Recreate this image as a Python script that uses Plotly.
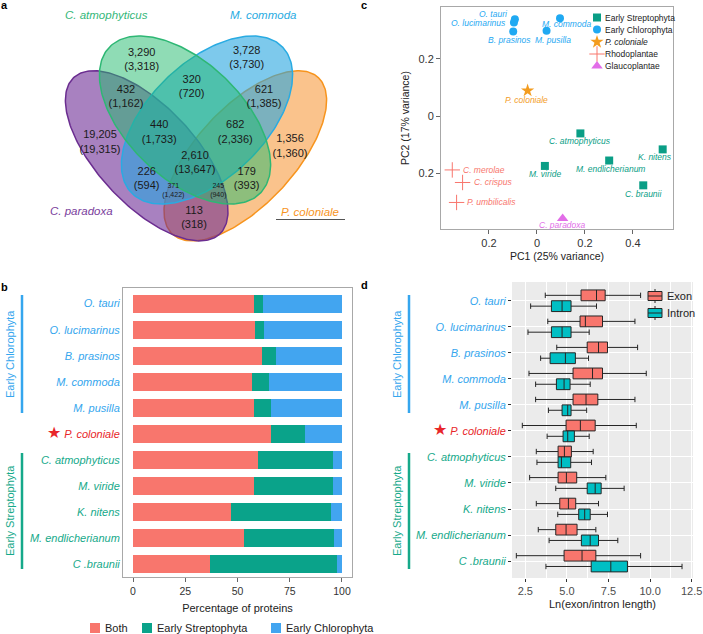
import numpy as np
import plotly.graph_objects as go

W, H = 703, 634
FONT = "Liberation Sans, Arial, Helvetica, sans-serif"

# ---------------- data ----------------
# panel a: Venn diagram counts (shared / total)
venn_counts = ["3,290", "3,728", "320", "432", "621", "19,205", "440", "682",
               "1,356", "2,610", "226", "179", "371", "245", "113"]
venn_totals = ["3,318", "3,730", "720", "1,162", "1,385", "19,315", "1,733", "2,336",
               "1,360", "13,647", "594", "393", "1,422", "940", "318"]

# panel b: percentage of proteins
species = ["O. tauri", "O. lucimarinus", "B. prasinos", "M. commoda", "M. pusilla",
           "P. coloniale", "C. atmophyticus", "M. viride", "K. nitens",
           "M. endlicherianum", "C .braunii"]
species_group = ["chl"] * 5 + ["col"] + ["str"] * 5
pct_both = [57.9, 58.3, 61.8, 57.1, 57.9, 66.0, 59.6, 57.9, 46.9, 53.3, 36.9]
pct_strep = [4.3, 4.3, 6.5, 8.1, 7.9, 16.2, 35.9, 37.8, 47.7, 42.9, 60.7]
pct_chloro = [37.8, 37.4, 31.7, 34.8, 34.2, 17.8, 4.5, 4.3, 5.4, 3.8, 2.4]

# panel c: PCA
pca_names = ["O. tauri", "O. lucimarinus", "B. prasinos", "M. commoda", "M. pusilla",
             "P. coloniale", "C. atmophyticus", "M. viride", "K. nitens",
             "M. endlicherianum", "C. braunii", "C. merolae", "C. crispus",
             "P. umbilicalis", "C. paradoxa"]
pca_group = (["Early Chlorophyta"] * 5 + ["P. coloniale"] + ["Early Streptophyta"] * 5
             + ["Rhodoplantae"] * 3 + ["Glaucoplantae"])
pc1 = [-0.092, -0.096, -0.099, 0.096, 0.040, -0.039, 0.181, 0.033, 0.524, 0.301,
       0.443, -0.353, -0.310, -0.335, 0.107]
pc2 = [0.339, 0.328, 0.296, 0.343, 0.299, 0.089, -0.061, -0.175, -0.117, -0.156,
       -0.243, -0.189, -0.233, -0.303, -0.359]

# panel d: Ln(exon/intron length) box stats
exon_lo = [3.70, 3.85, 4.39, 2.72, 3.12, 2.32, 3.16, 2.76, 3.16, 3.28, 1.96]
exon_q1 = [5.85, 5.79, 6.22, 5.37, 5.37, 4.95, 4.47, 4.47, 4.57, 4.33, 4.83]
exon_med = [6.78, 6.11, 6.90, 6.54, 6.15, 5.81, 4.85, 4.97, 5.09, 4.95, 5.91]
exon_q3 = [7.30, 7.14, 7.44, 7.14, 6.86, 6.70, 5.27, 5.59, 5.53, 5.61, 6.74]
exon_hi = [9.43, 9.09, 9.25, 9.77, 9.09, 9.17, 6.58, 7.34, 6.90, 6.74, 9.43]
intron_lo = [2.82, 2.66, 3.42, 3.12, 3.89, 3.81, 3.20, 4.33, 4.45, 3.93, 3.74]
intron_q1 = [4.07, 4.07, 3.99, 4.37, 4.71, 4.77, 4.47, 6.22, 5.71, 5.87, 6.46]
intron_med = [4.71, 4.71, 4.91, 4.83, 5.05, 5.05, 4.67, 6.70, 6.07, 6.40, 7.64]
intron_q3 = [5.25, 5.25, 5.51, 5.19, 5.25, 5.45, 5.23, 7.06, 6.40, 6.90, 8.64]
intron_hi = [6.78, 6.34, 6.30, 6.40, 6.19, 6.34, 6.48, 8.44, 7.44, 8.06, 11.92]

# ---------------- styles ----------------
C_CHL = "#35a6ee"
C_STR = "#16a98a"
C_COL = "#e8262a"
group_color = {"chl": C_CHL, "str": C_STR, "col": C_COL}


def px(x):
    return x / W


def py(y):
    return 1 - y / H


def tick_label(name, grp):
    c = group_color[grp]
    lab = f'<span style="color:{c}"><i>{name}</i></span>'
    if grp == "col":
        lab = f'<span style="color:{c};font-size:16px">★</span> ' + lab
    return lab


fig = go.Figure()

# ---------------- panel a ----------------
venn_geom = {  # cx, cy, a, b, angle (pixel space)
    "P. coloniale": (245.3, 155.8, 107, 49, -47, "rgba(245,135,25,0.5)", "#f7941d"),
    "C. paradoxa": (146.7, 155.8, 107, 49, 47, "rgba(105,38,147,0.58)", "#6b2d90"),
    "M. commoda": (207, 120, 105, 58, -44, "rgba(38,165,223,0.6)", "#29abe2"),
    "C. atmophyticus": (185, 120, 105, 58, 44, "rgba(31,185,107,0.5)", "#2eb774"),
}
t = np.linspace(0, 2 * np.pi, 240)
for name, (cx, cy, a, b, ang, fc, lc) in venn_geom.items():
    th = np.radians(ang)
    ex = cx + a * np.cos(t) * np.cos(th) - b * np.sin(t) * np.sin(th)
    ey = cy + a * np.cos(t) * np.sin(th) + b * np.sin(t) * np.cos(th)
    fig.add_trace(go.Scatter(x=ex, y=ey, mode="lines", fill="toself", fillcolor=fc,
                             line=dict(color=lc, width=1.5), showlegend=False,
                             hoverinfo="skip", xaxis="x", yaxis="y"))

venn_xy = [(141.7, 60), (246.7, 58.3), (191.7, 87.3), (126, 97.3), (264, 97.3),
           (100, 142.7), (159.3, 132.7), (235.3, 132.7), (290, 146.7), (195, 163.3),
           (146.7, 179.3), (246.7, 179.3), (173.3, 191), (218.3, 191), (194, 218.3)]
venn_size = [11] * 12 + [7, 7, 11]
fig.add_trace(go.Scatter(
    x=[p[0] for p in venn_xy], y=[p[1] for p in venn_xy], mode="text",
    text=[f"{c}<br>({tt})" for c, tt in zip(venn_counts, venn_totals)],
    textfont=dict(size=venn_size, color="#1a1a1a", family=FONT),
    showlegend=False, hoverinfo="skip", xaxis="x", yaxis="y"))

set_labels = [("C. atmophyticus", 106, 15, "#35b779"), ("M. commoda", 263, 15, "#29abe2"),
              ("C. paradoxa", 81, 211, "#7a3d9c"), ("P. coloniale", 310, 212, "#f7941d")]
for name, x, y, c in set_labels:
    fig.add_annotation(x=x, y=y, xref="x", yref="y", text=f"<i>{name}</i>",
                       showarrow=False, xanchor="center", yanchor="middle",
                       font=dict(size=11.5, color=c))
fig.add_shape(type="line", xref="x", yref="y", x0=276, x1=345, y0=219.5, y1=219.5,
              line=dict(color="#555555", width=1))

# ---------------- panel b ----------------
bar_series = [("Both", pct_both, "#F8766D"), ("Early Streptophyta", pct_strep, "#0aa38a"),
              ("Early Chlorophyta", pct_chloro, "#42a5f0")]
for name, vals, col in bar_series:
    fig.add_trace(go.Bar(y=species, x=vals, name=name, orientation="h",
                         marker=dict(color=col, line=dict(width=0)), showlegend=False,
                         xaxis="x2", yaxis="y2"))

# legend for b (drawn by hand, keys like ggplot)
for (name, _, col), x0 in zip(bar_series, [90, 142, 271]):
    fig.add_shape(type="rect", xref="paper", yref="paper", x0=px(x0), x1=px(x0 + 10),
                  y0=py(633), y1=py(623), fillcolor=col, line=dict(width=0))
    fig.add_annotation(x=px(x0 + 12.5), y=py(628), xref="paper", yref="paper", text=name,
                       xanchor="left", yanchor="middle", showarrow=False,
                       font=dict(size=11, color="#222222"))

# ---------------- panel c ----------------
pca_style = {
    "Early Streptophyta": dict(symbol="square", color="#0a9e86", size=8),
    "Early Chlorophyta": dict(symbol="circle", color="#1fa9f2", size=8),
    "P. coloniale": dict(symbol="star", color="#f39c1f", size=10),
    "Rhodoplantae": dict(symbol="cross-thin", color="#f8766d", size=11,
                         line=dict(color="#f8766d", width=1)),
    "Glaucoplantae": dict(symbol="triangle-up", color="#e26de8", size=10),
}
# label placement: (xanchor, xshift, yshift) in pixels
label_offset = {
    "O. tauri": ("right", -5, 5), "O. lucimarinus": ("right", -6, -0.5),
    "B. prasinos": ("center", -4, -8), "M. commoda": ("center", 6, -6),
    "M. pusilla": ("center", 6, -9), "P. coloniale": ("center", -1, -9),
    "C. atmophyticus": ("center", 0, -8), "K. nitens": ("center", -8, -7.5),
    "M. endlicherianum": ("center", 1, -8.5), "M. viride": ("center", 0, -8.5),
    "C. braunii": ("center", 0, -9), "C. merolae": ("left", 9, 0),
    "C. crispus": ("left", 9, 0), "P. umbilicalis": ("left", 8, 0),
    "C. paradoxa": ("center", 0, -7),
}
for grp in ["Early Chlorophyta", "P. coloniale", "Early Streptophyta", "Rhodoplantae",
            "Glaucoplantae"]:
    idx = [i for i, g in enumerate(pca_group) if g == grp]
    st = pca_style[grp]
    fig.add_trace(go.Scatter(x=[pc1[i] for i in idx], y=[pc2[i] for i in idx],
                             mode="markers", marker=st, showlegend=False,
                             xaxis="x3", yaxis="y3", name=grp))
    for i in idx:
        xa, xs, ys = label_offset[pca_names[i]]
        fig.add_annotation(x=pc1[i], y=pc2[i], xref="x3", yref="y3",
                           text=f"<i>{pca_names[i]}</i>", showarrow=False, xanchor=xa,
                           yanchor="middle", xshift=xs, yshift=ys,
                           font=dict(size=8.5, color=st["color"]))

# custom legend for panel c
leg_groups = ["Early Streptophyta", "Early Chlorophyta", "P. coloniale", "Rhodoplantae",
              "Glaucoplantae"]
leg_y = [17.5, 29.5, 42, 54, 66]
for grp, yy in zip(leg_groups, leg_y):
    st = pca_style[grp]
    fig.add_trace(go.Scatter(x=[597], y=[yy], mode="markers", marker=st, showlegend=False,
                             hoverinfo="skip", xaxis="x5", yaxis="y5"))
    txt = f"<i>{grp}</i>" if grp == "P. coloniale" else grp
    fig.add_annotation(x=602.5, y=yy, xref="x5", yref="y5", text=txt, showarrow=False,
                       xanchor="left", yanchor="middle", font=dict(size=8.5, color="#222222"))

# ---------------- panel d ----------------
box_series = [("Exon", exon_lo, exon_q1, exon_med, exon_q3, exon_hi, "#F8766D"),
              ("Intron", intron_lo, intron_q1, intron_med, intron_q3, intron_hi, "#00BFC4")]
for name, lo, q1, med, q3, hi, col in box_series:
    fig.add_trace(go.Box(y=species, lowerfence=lo, q1=q1, median=med, q3=q3,
                         upperfence=hi, orientation="h", name=name, fillcolor=col,
                         line=dict(color="#262626", width=1), whiskerwidth=0.5,
                         boxpoints=False, showlegend=False, xaxis="x4", yaxis="y4"))

fig.add_shape(type="rect", xref="x4 domain", yref="y4 domain", x0=0, x1=1, y0=0, y1=1,
              fillcolor="#EBEBEB", line=dict(width=0), layer="below")

# legend keys for d (box glyphs)
for (name, *_, col), yc in zip(box_series, [296, 313]):
    fig.add_shape(type="line", xref="paper", yref="paper", x0=px(655), x1=px(655),
                  y0=py(yc - 7), y1=py(yc + 7), line=dict(color="#262626", width=1))
    fig.add_shape(type="rect", xref="paper", yref="paper", x0=px(648), x1=px(662),
                  y0=py(yc + 4.5), y1=py(yc - 4.5), fillcolor=col,
                  line=dict(color="#262626", width=1))
    fig.add_shape(type="line", xref="paper", yref="paper", x0=px(648), x1=px(662),
                  y0=py(yc), y1=py(yc), line=dict(color="#262626", width=1))
    fig.add_annotation(x=px(665), y=py(yc), xref="paper", yref="paper", text=name,
                       xanchor="left", yanchor="middle", showarrow=False,
                       font=dict(size=11, color="#222222"))

# group brackets for b and d
for xl, xt in [(22, 10), (409, 397)]:
    for y0, y1, c, lab in [(295, 413, C_CHL, "Early Chlorophyta"),
                           (453, 569, C_STR, "Early Streptophyta")]:
        fig.add_shape(type="line", xref="paper", yref="paper", x0=px(xl), x1=px(xl),
                      y0=py(y0), y1=py(y1), line=dict(color=c, width=2.5))
        fig.add_annotation(x=px(xt), y=py((y0 + y1) / 2), xref="paper", yref="paper",
                           text=lab, textangle=-90, showarrow=False, xanchor="center",
                           yanchor="middle", font=dict(size=11, color=c))

# panel letters
for lab, x, y in [("a", 4, 5), ("b", 4, 287), ("c", 364, 5), ("d", 364, 285)]:
    fig.add_annotation(x=px(x), y=py(y), xref="paper", yref="paper", text=f"<b>{lab}</b>",
                       showarrow=False, xanchor="center", yanchor="middle",
                       font=dict(size=11, color="black"))

ticklabels = [tick_label(n, g) for n, g in zip(species, species_group)]
axis_font = dict(size=10.5, color="#333333")

fig.update_layout(
    width=W, height=H, margin=dict(l=0, r=0, t=0, b=0),
    template="none", paper_bgcolor="white", plot_bgcolor="rgba(0,0,0,0)",
    font=dict(family=FONT, color="#222222"), showlegend=False,
    barmode="stack", bargap=0.3, boxmode="group", boxgap=0.17, boxgroupgap=0,
    xaxis=dict(domain=[0, px(360)], range=[0, 360], visible=False),
    yaxis=dict(domain=[py(260), 1], range=[260, 0], visible=False),
    xaxis2=dict(domain=[px(123), px(352)], range=[-4.8, 104.8], tickvals=[0, 25, 50, 75, 100],
                ticks="outside", ticklen=4, tickcolor="#666666", showline=True, mirror=True,
                linecolor="#a8a8a8", linewidth=1, showgrid=False, zeroline=False,
                tickfont=axis_font, automargin=False, anchor="y2",
                title=dict(text="Percentage of proteins", font=dict(size=11), standoff=8)),
    yaxis2=dict(domain=[py(577), py(288)], range=[10.5, -0.6], type="category",
                categoryorder="array", categoryarray=species, tickvals=species,
                ticktext=ticklabels, ticks="", showline=True, mirror=True,
                linecolor="#a8a8a8", linewidth=1, showgrid=False, zeroline=False,
                tickfont=dict(size=11), automargin=False, anchor="x2"),
    xaxis3=dict(domain=[px(441), px(673)], range=[-0.4, 0.567], tickvals=[-0.2, 0, 0.2, 0.4],
                ticktext=["0.2", "0", "0.2", "0.4"], ticks="outside", ticklen=4,
                tickcolor="#666666", showline=True, mirror=True, linecolor="#a8a8a8",
                showgrid=False, zeroline=False, tickfont=dict(size=11, color="#333333"),
                automargin=False, anchor="y3",
                title=dict(text="PC1 (25% variance)", font=dict(size=10.5), standoff=4)),
    yaxis3=dict(domain=[py(229), py(7)], range=[-0.396, 0.382], tickvals=[-0.2, 0, 0.2],
                ticktext=["0.2", "0", "0.2"], ticks="outside", ticklen=4, tickcolor="#666666",
                showline=True, mirror=True, linecolor="#a8a8a8", showgrid=False,
                zeroline=False, tickfont=dict(size=11, color="#333333"), automargin=False,
                anchor="x3",
                title=dict(text="PC2 (17% variance)", font=dict(size=10.5), standoff=6)),
    xaxis4=dict(domain=[px(512), px(693)], range=[1.7, 12.58],
                tickvals=[2.5, 5, 7.5, 10, 12.5], ticktext=["2.5", "5.0", "7.5", "10.0", "12.5"],
                ticks="outside", ticklen=3, tickcolor="#333333", showline=False,
                showgrid=True, gridcolor="white", gridwidth=1.1, zeroline=False,
                minor=dict(tickvals=[3.75, 6.25, 8.75, 11.25], showgrid=True,
                           gridcolor="white", gridwidth=0.5),
                tickfont=dict(size=11, color="#4d4d4d"), automargin=False, anchor="y4",
                title=dict(text="Ln(exon/intron length)", font=dict(size=11), standoff=4)),
    yaxis4=dict(domain=[py(578), py(282)], range=[10.65, -0.72], type="category",
                categoryorder="array", categoryarray=species, tickvals=species,
                ticktext=ticklabels, ticks="outside", ticklen=3, tickcolor="#333333",
                showline=False, showgrid=True, gridcolor="white", gridwidth=1.1,
                zeroline=False, tickfont=dict(size=11), automargin=False, anchor="x4"),
    xaxis5=dict(domain=[px(583), px(700)], range=[583, 700], visible=False, anchor="y5"),
    yaxis5=dict(domain=[py(75), py(8)], range=[75, 8], visible=False, anchor="x5"),
)

fig.write_html("out.html", config={"displayModeBar": False},
               post_script="document.body.style.margin='0px';")
